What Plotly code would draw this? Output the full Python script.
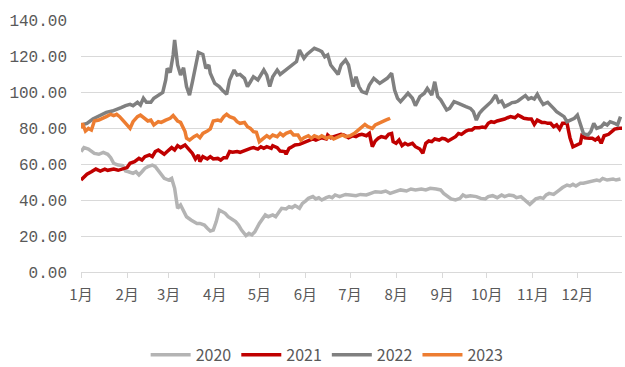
import plotly.graph_objects as go

# Price series for four years, plotted on a shared Jan–Dec axis (month-day)
dates_2020 = ["01-01","01-03","01-06","01-08","01-10","01-13","01-16","01-19","01-21","01-23","01-26","01-29","01-31",
              "02-02","02-05","02-07","02-09","02-11","02-13","02-15","02-18","02-20","02-22","02-24","02-26",
              "03-01","03-03","03-05","03-07","03-09","03-11","03-13","03-16","03-18","03-20","03-22","03-25","03-27","03-29","03-31",
              "04-02","04-04","04-06","04-08","04-10","04-13","04-15","04-17","04-19","04-22","04-24","04-26","04-28",
              "05-01","05-03","05-05","05-07","05-10","05-12","05-14","05-16","05-19","05-21","05-23","05-25","05-28","05-30",
              "06-01","06-03","06-06","06-08","06-10","06-12","06-15","06-17","06-19","06-21","06-24","06-26","06-28",
              "07-01","07-05","07-08","07-12","07-15","07-18","07-22","07-25","07-28",
              "08-01","08-04","08-08","08-11","08-14","08-18","08-21","08-24","08-28","08-31",
              "09-02","09-05","09-07","09-10","09-13","09-15","09-17","09-20","09-24","09-27","09-30",
              "10-02","10-05","10-08","10-11","10-13","10-16","10-19","10-21","10-24","10-26","10-28","10-30",
              "11-01","11-03","11-06","11-08","11-10","11-12","11-15","11-17","11-19","11-21","11-24","11-26","11-28","11-30",
              "12-03","12-05","12-07","12-09","12-12","12-14","12-16","12-18","12-21","12-23","12-25","12-27","12-30"]
values_2020 = [66.9,69.1,68.3,66.9,65.9,65.4,66.5,65.4,63.5,60.4,59.4,59.1,56.1,
               55.7,54.8,55.7,53.9,55.7,57.6,58.5,59.4,58.5,56.1,53.9,52.0,
               51.1,52.0,46.5,35.4,37.2,33.5,30.7,28.9,28.0,27.0,27.0,26.1,24.3,22.8,23.3,
               28.0,34.4,33.5,32.6,30.7,29.4,28.0,26.1,23.3,20.2,21.5,20.6,22.4,
               27.0,29.8,31.7,30.7,31.7,30.7,33.5,35.4,35.0,36.3,35.7,36.9,35.4,38.1,
               39.4,40.9,41.9,40.6,41.3,40.0,41.3,41.9,41.3,42.8,41.9,42.4,43.1,
               42.8,42.4,43.1,42.8,43.7,44.6,44.3,45.0,43.7,
               44.6,45.6,45.0,46.1,45.6,46.1,45.6,46.5,46.1,45.6,
               43.7,41.9,40.6,40.0,40.9,42.8,41.9,42.4,41.9,40.9,40.6,
               41.9,42.4,41.3,42.8,41.9,42.8,42.4,41.3,41.9,40.6,39.1,37.6,
               39.1,40.6,41.3,40.9,42.8,43.7,43.1,44.6,45.6,46.9,48.3,47.8,48.7,47.8,
               49.3,49.3,49.8,50.2,50.6,51.1,50.6,52.0,51.1,51.5,51.7,51.1,51.7]

dates_2021 = ["01-01","01-03","01-05","01-08","01-11","01-14","01-17","01-19","01-23","01-26","01-30",
              "02-01","02-03","02-06","02-09","02-11","02-13","02-16","02-18","02-20","02-22","02-24","02-26","02-28",
              "03-03","03-05","03-07","03-09","03-12","03-14","03-17","03-19","03-21","03-22","03-24","03-27","03-29","03-31",
              "04-03","04-05","04-07","04-09","04-11","04-13","04-16","04-18","04-20","04-23","04-25","04-27","04-30",
              "05-02","05-04","05-06","05-09","05-10","05-13","05-15","05-18","05-19","05-21","05-23","05-25","05-28","05-30",
              "06-01","06-03","06-06","06-08","06-10","06-12","06-15","06-16","06-18","06-20","06-23","06-25","06-27","06-30",
              "07-03","07-05","07-07","07-09","07-12","07-14","07-16","07-18","07-20","07-22","07-25","07-27","07-29","07-30",
              "08-01","08-03","08-05","08-07","08-09","08-12","08-14","08-17","08-19","08-21","08-23","08-25","08-27","08-30",
              "09-01","09-03","09-05","09-08","09-10","09-12","09-14","09-17","09-19","09-21","09-23","09-26","09-28","09-30",
              "10-02","10-04","10-06","10-08","10-11","10-13","10-15","10-17","10-20","10-22","10-24","10-26","10-29","10-31",
              "11-02","11-04","11-07","11-09","11-11","11-13","11-15","11-17","11-19","11-21","11-24","11-26","11-28","11-30",
              "12-03","12-04","12-06","12-09","12-11","12-13","12-15","12-17","12-19","12-22","12-24","12-26","12-29","12-31"]
values_2021 = [51.1,53.0,54.3,55.7,57.2,56.1,57.2,56.5,57.2,56.5,57.2,
               58.0,60.4,61.3,63.1,62.2,64.1,65.0,64.1,66.9,67.8,66.5,65.4,66.9,
               69.1,67.8,70.2,69.1,70.6,68.7,65.9,62.8,65.0,61.3,64.1,62.8,64.1,62.8,
               63.1,62.2,63.5,63.5,66.9,66.5,66.9,66.5,67.2,68.3,68.7,69.1,68.3,
               69.6,68.7,69.6,68.7,70.2,69.1,67.2,66.9,65.4,68.7,69.6,70.6,70.9,71.5,
               72.4,72.8,73.9,73.3,73.9,74.6,73.9,76.1,74.6,75.2,75.7,76.5,76.1,74.6,
               75.7,75.2,76.1,76.5,75.7,77.0,69.6,72.8,74.3,75.2,74.6,76.5,77.0,72.4,
               71.5,73.3,70.2,71.5,70.6,71.5,69.6,68.3,65.9,71.5,72.8,72.4,73.9,73.3,
               74.3,73.9,72.8,74.3,75.2,77.0,76.5,78.3,78.9,78.9,80.2,80.2,80.5,80.2,
               82.6,83.5,83.1,83.9,84.4,85.0,85.7,86.3,85.7,87.2,86.3,85.4,85.0,85.0,
               82.0,84.4,83.1,83.1,82.6,82.6,80.7,81.7,79.4,82.6,82.6,74.6,69.6,70.2,
               71.5,75.7,74.6,74.3,74.3,73.3,74.6,71.5,75.7,76.5,78.0,79.4,79.8,79.8]

dates_2022 = ["01-01","01-05","01-09","01-14","01-18","01-22","01-25","01-28","01-31",
              "02-03","02-05","02-08","02-10","02-12","02-14","02-17","02-19","02-22","02-25","02-27","02-28",
              "03-02","03-04","03-05","03-07","03-09","03-11","03-13","03-15","03-17","03-19","03-21","03-24","03-26","03-28","03-29",
              "04-01","04-04","04-06","04-08","04-09","04-11","04-14","04-16","04-18","04-21","04-23","04-25","04-27","04-30",
              "05-02","05-04","05-06","05-08","05-10","05-13","05-15","05-18","05-20","05-23","05-26","05-28","05-31",
              "06-02","06-05","06-07","06-10","06-12","06-14","06-16","06-18","06-21","06-23","06-25","06-28","06-30",
              "07-03","07-05","07-07","07-09","07-12","07-14","07-17","07-21","07-23","07-26","07-29","07-31",
              "08-02","08-04","08-07","08-09","08-12","08-14","08-17","08-20","08-22","08-25","08-27","08-29","08-31",
              "09-02","09-04","09-06","09-09","09-12","09-14","09-17","09-20","09-22","09-24","09-26","09-28",
              "10-02","10-04","10-07","10-09","10-11","10-13","10-16","10-18","10-20","10-22","10-25","10-27","10-29","10-31",
              "11-02","11-04","11-06","11-08","11-11","11-13","11-15","11-17","11-20","11-22","11-24","11-26","11-29",
              "12-01","12-03","12-05","12-08","12-10","12-12","12-14","12-17","12-19","12-21","12-23","12-26","12-28","12-30"]
values_2022 = [81.7,82.6,85.0,87.2,88.7,89.4,90.6,91.3,92.4,
               93.1,92.4,94.3,92.8,96.5,94.3,94.3,96.5,98.3,99.8,106.7,113.1,
               110.9,120.6,128.9,115.0,109.4,113.5,103.0,98.3,105.7,113.1,122.0,120.9,113.1,115.0,110.4,
               104.8,103.0,101.1,99.8,98.7,106.7,112.2,109.4,109.8,107.6,103.0,105.7,108.5,106.7,
               109.8,112.2,109.4,103.0,108.5,112.2,109.8,111.7,113.1,115.0,116.9,123.3,118.7,
               120.9,122.8,124.3,123.3,122.4,119.6,120.6,115.0,112.2,109.8,115.0,117.8,115.0,
               103.0,108.5,103.0,100.2,99.3,103.9,107.6,104.8,105.7,107.6,110.4,101.1,
               96.5,94.6,97.4,99.3,96.5,92.4,97.4,99.3,102.0,98.3,105.7,97.4,95.6,
               92.8,90.0,90.9,94.6,93.7,92.8,91.9,90.9,89.1,84.4,88.1,90.0,
               92.8,94.6,98.3,94.3,95.0,91.9,93.1,94.1,94.3,95.0,96.9,98.0,96.1,96.9,
               96.1,98.7,95.6,93.1,94.3,92.8,90.9,89.1,87.2,86.3,83.5,84.4,85.4,
               87.2,81.7,77.0,76.1,78.0,82.6,79.8,80.7,82.6,81.7,83.5,82.6,81.7,86.3]

dates_2023 = ["01-01","01-02","01-04","01-06","01-08","01-10","01-13","01-15","01-18","01-21","01-23","01-25","01-27","01-30",
              "02-01","02-03","02-05","02-08","02-10","02-13","02-15","02-17","02-19","02-22","02-24","02-27",
              "03-02","03-04","03-07","03-09","03-10","03-12","03-13","03-15","03-18","03-20","03-22","03-24","03-27","03-29","03-31",
              "04-03","04-05","04-07","04-09","04-11","04-14","04-16","04-18","04-21","04-23","04-25","04-27","04-29",
              "05-01","05-04","05-06","05-08","05-10","05-13","05-15","05-17","05-19","05-22","05-24","05-27","05-29","05-31",
              "06-03","06-05","06-07","06-10","06-12","06-15","06-18","06-20","06-23","06-26","06-28",
              "07-01","07-04","07-07","07-09","07-11","07-13","07-16","07-18","07-20","07-22","07-25","07-27","07-28"]
values_2023 = [79.8,82.6,78.3,79.8,78.9,83.9,84.4,85.0,86.3,87.6,86.9,87.6,86.3,83.5,
               81.7,79.8,83.5,86.3,87.2,85.4,83.9,84.4,81.7,83.5,83.1,84.4,
               85.4,86.9,83.9,83.1,81.7,78.0,74.3,73.3,75.2,76.1,74.6,77.0,78.3,79.5,83.9,
               84.4,83.9,86.3,87.6,86.3,85.4,83.5,82.6,83.1,80.7,79.8,78.0,77.6,
               72.4,74.3,75.7,74.6,76.1,75.2,77.0,75.7,77.0,78.0,76.1,76.1,73.3,74.6,
               75.7,74.3,75.7,74.6,75.7,74.3,75.2,73.9,75.2,76.1,75.2,
               75.7,77.0,78.9,80.2,82.0,80.7,79.8,81.7,82.6,83.5,84.4,85.0,85.4]

month_starts = ["01-01","02-01","03-01","04-01","05-01","06-01",
                "07-01","08-01","09-01","10-01","11-01","12-01"]
month_labels = ["1月","2月","3月","4月","5月","6月","7月","8月","9月","10月","11月","12月"]
y_ticks = [0, 20, 40, 60, 80, 100, 120, 140]

AXIS_YEAR = "2021-"  # common non-leap year used for the shared month-day axis

series = [
    ("2020", dates_2020, values_2020, "#B4B4B4"),
    ("2021", dates_2021, values_2021, "#C00000"),
    ("2022", dates_2022, values_2022, "#808080"),
    ("2023", dates_2023, values_2023, "#ED7D31"),
]

fig = go.Figure()
for name, dates, vals, color in series:
    fig.add_trace(go.Scatter(
        x=[AXIS_YEAR + d for d in dates], y=vals, name=name, mode="lines",
        line=dict(color=color, width=3.5), hoverinfo="skip",
    ))

font_family = "Noto Sans CJK SC"
mono_family = "Liberation Mono, monospace"
text_color = "#595959"
grid_color = "#D9D9D9"

fig.update_layout(
    width=625, height=367,
    margin=dict(l=81, r=3, t=20, b=95, autoexpand=False),
    paper_bgcolor="white", plot_bgcolor="white",
    font=dict(family=font_family, size=15, color=text_color),
    showlegend=True,
    legend=dict(orientation="h", x=0.455, xanchor="center",
                yref="container", y=0.033, yanchor="middle",
                font=dict(size=16, color=text_color), itemwidth=40, traceorder="normal"),
)
fig.update_xaxes(
    type="date",
    range=[AXIS_YEAR + "01-01", AXIS_YEAR + "12-31"],
    tickvals=[AXIS_YEAR + m for m in month_starts], ticktext=month_labels,
    showgrid=False, showline=True, linecolor=grid_color, linewidth=1,
    ticks="outside", ticklen=5, tickcolor=grid_color, ticklabelstandoff=4,
    tickfont=dict(size=15, color=text_color),
)
fig.update_yaxes(
    range=[0, 140], tickvals=y_ticks, tickformat=".2f",
    showgrid=True, gridcolor=grid_color, gridwidth=1, zeroline=False,
    showline=False, ticks="", ticklabelstandoff=13,
    tickfont=dict(family=mono_family, size=16, color=text_color),
)

fig.write_html("out.html")
